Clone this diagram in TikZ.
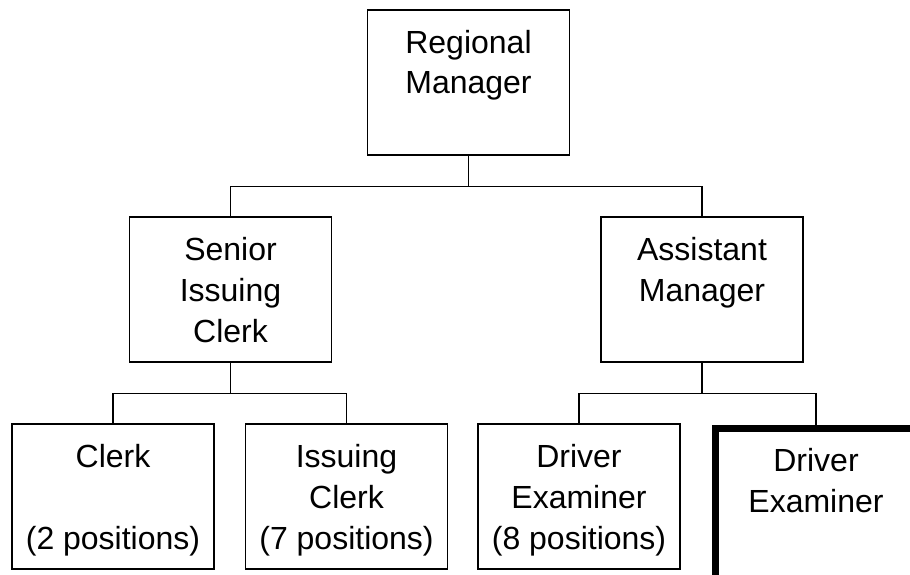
\documentclass[tikz,border=0pt]{standalone}
\usepackage{fontspec}
\setmainfont{Liberation Sans}
\def\barsep{31.5}
\def\boxw{202pt}
\def\boxh{145pt}
\newcommand{\postlabel}[2][\boxh]{\parbox[c][#1][t]{\boxw}{\centering\fontsize{32}{41}\selectfont\rule{0pt}{43pt}#2}}

\begin{document}
\begin{tikzpicture}[x=1pt, y=-1pt]
			\tikzstyle{post}=[rectangle, draw=black, line width=1.8pt, inner sep=0pt, outer sep=0pt, minimum width=\boxw, minimum height=\boxh]
			\tikzstyle{vacant post}=[post, line width=7pt, minimum height=152pt]
			\tikzstyle{link}=[draw=black, line width=1.8pt]
			
			\useasboundingbox (0,0) rectangle (910,575);
			
			% Top of the chart
			\node[post] (RM) at (468.5, 82.5) {\postlabel{Regional\\Manager}};
			
			% Second level
			\node[post] (SIC) at (230.5, 289.5) {\postlabel{Senior\\Issuing\\Clerk}};
			\node[post] (AM) at (702, 289.5) {\postlabel{Assistant\\Manager}};
			
			% Third level
			\node[post] (C) at (113, 496.5) {\postlabel{Clerk\\ \mbox{}\\(2 positions)}};
			\node[post] (IC) at (346.5, 496.5) {\postlabel{Issuing\\Clerk\\(7 positions)}};
			\node[post] (DE8) at (579, 496.5) {\postlabel{Driver\\Examiner\\(8 positions)}};
			\node[vacant post, anchor=north] (DE) at (816, 428) {\postlabel[152pt]{Driver\\Examiner}};
			
			% Connect every boss with the two posts below
			\foreach \boss/\lsub/\rsub in {RM/SIC/AM, SIC/C/IC, AM/DE8/DE} {
				\draw[link] (\boss.south) -- ++(0,\barsep) coordinate (\boss-bar);
				\draw[link] (\lsub.north) |- (\boss-bar) -| (\rsub.north);
			}
\end{tikzpicture}
\end{document}
